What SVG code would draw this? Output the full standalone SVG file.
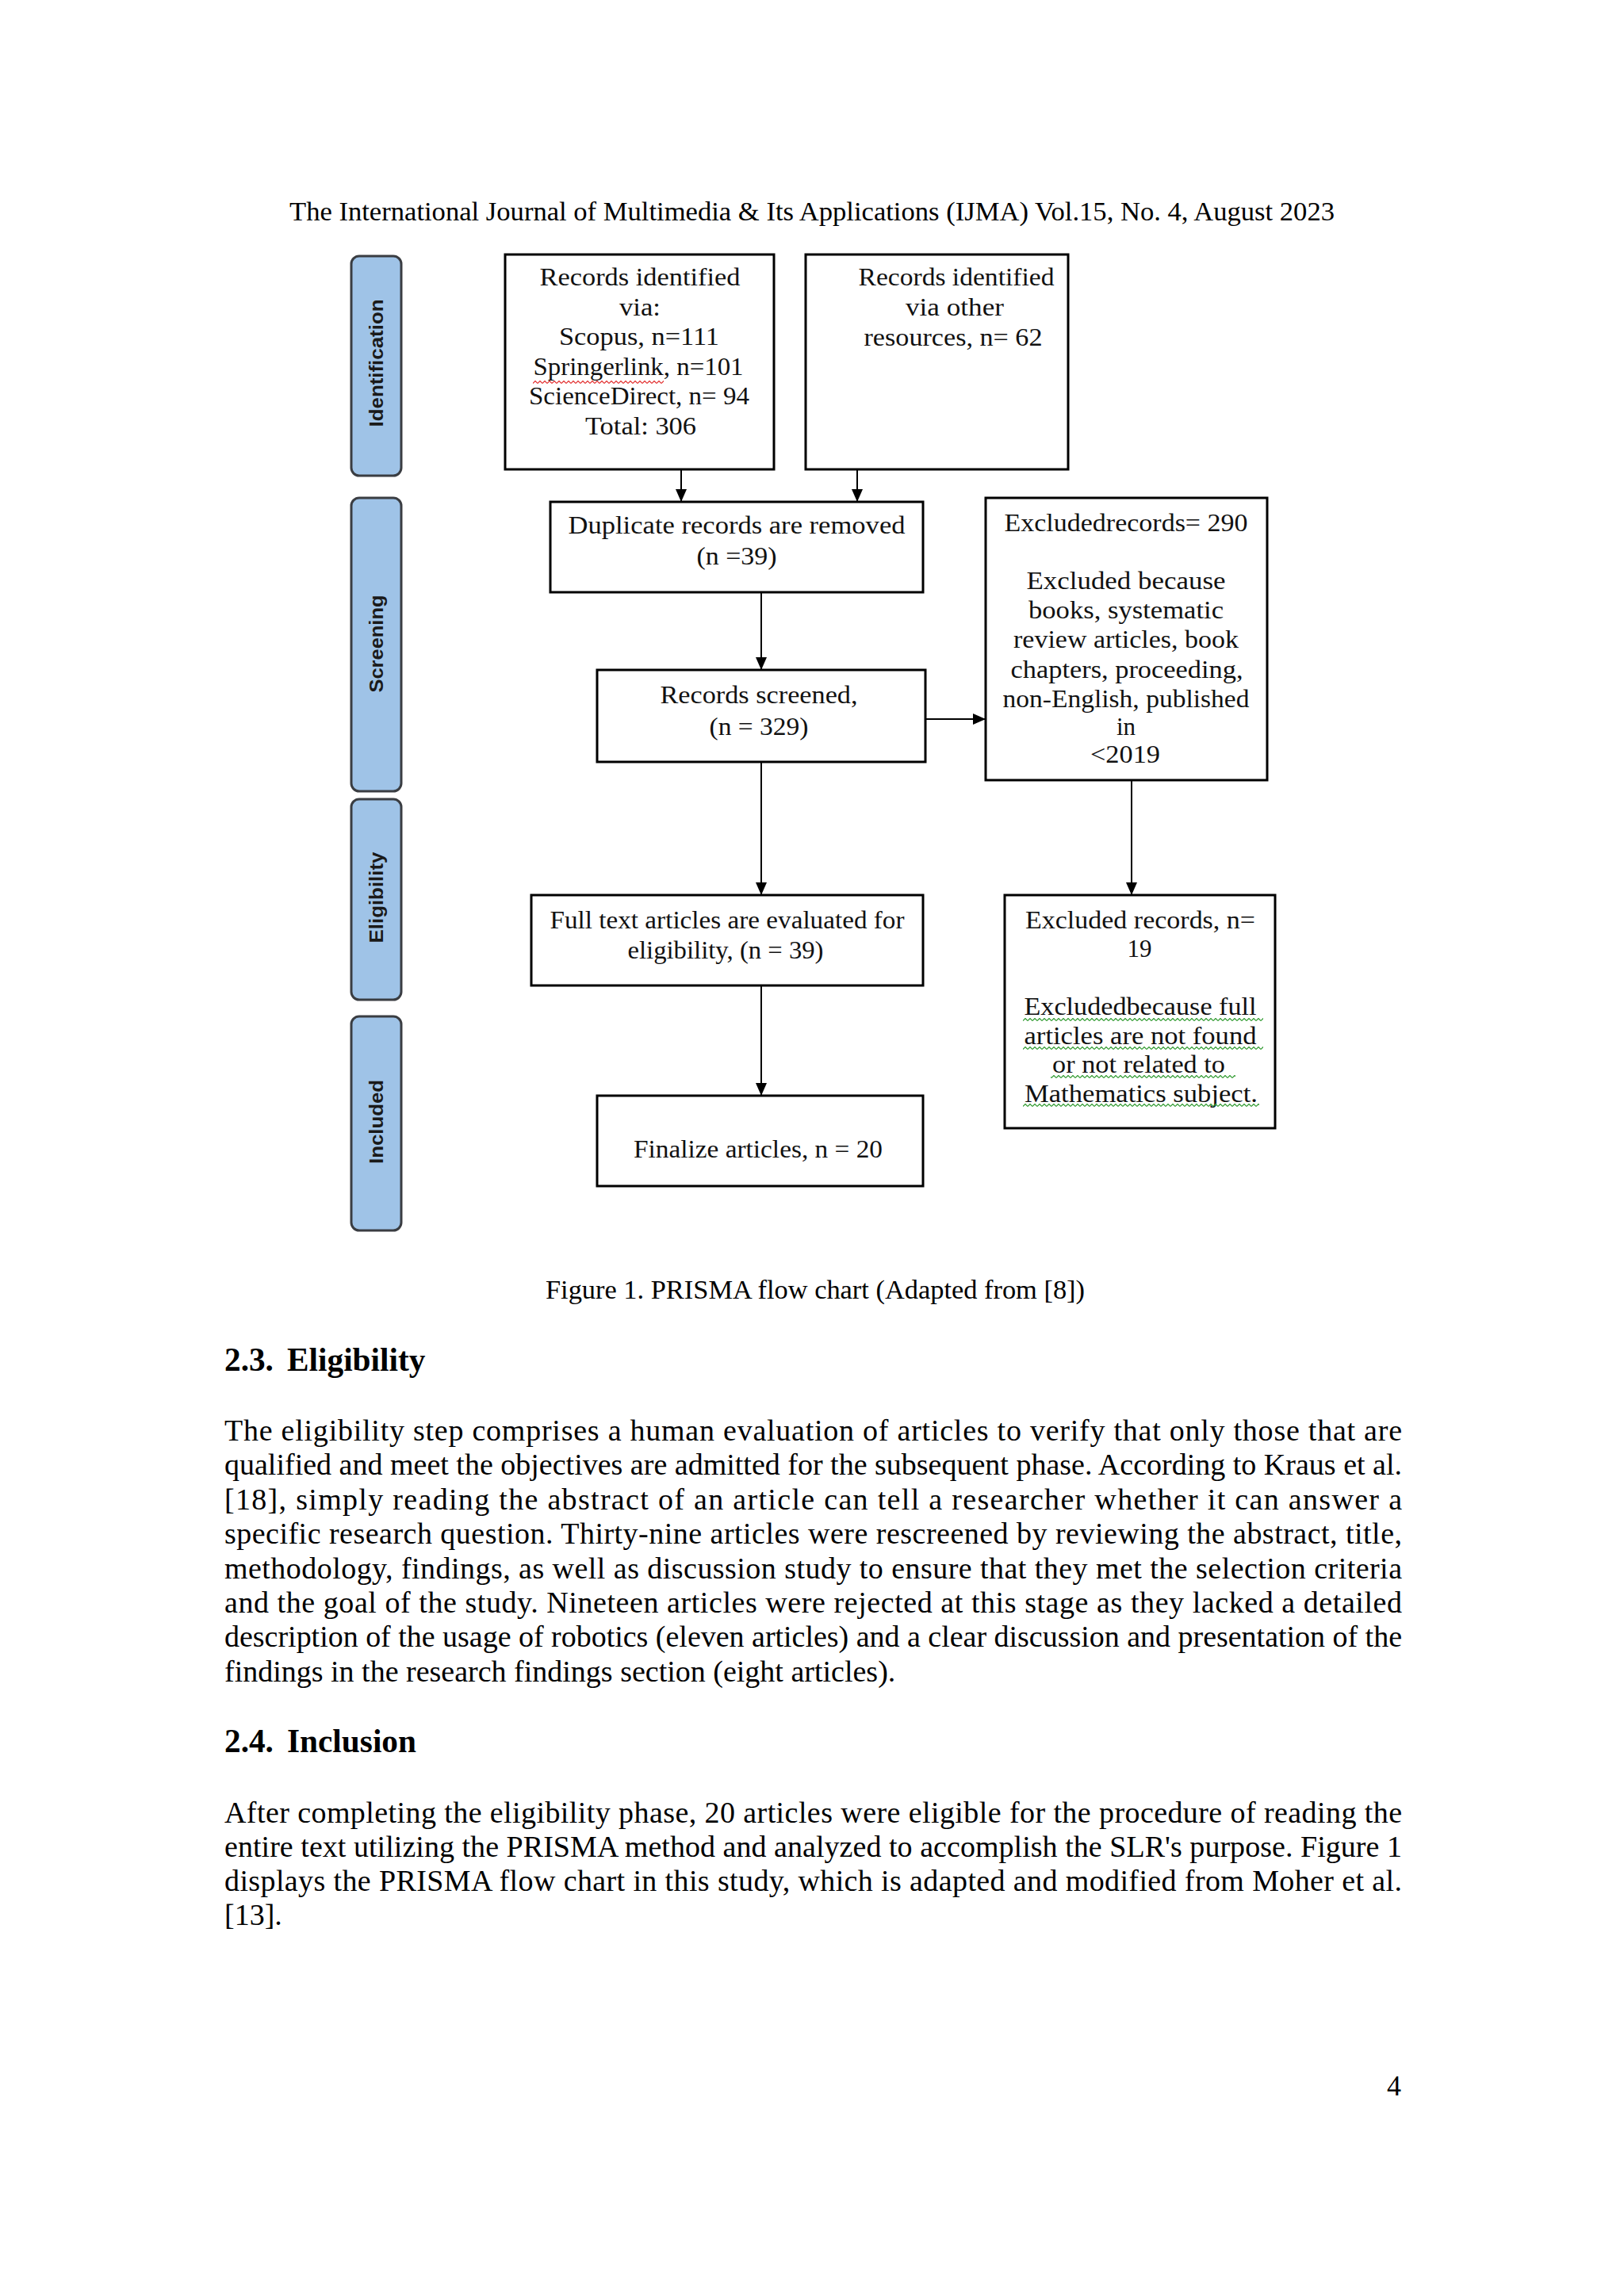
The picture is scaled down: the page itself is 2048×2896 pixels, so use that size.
<svg xmlns="http://www.w3.org/2000/svg" width="2048" height="2896" viewBox="0 0 2048 2896">
<defs>
<style>
.page{font-family:"Liberation Serif","Times New Roman",serif;fill:#000}
.box{fill:#fff;stroke:#000;stroke-width:3}
.bt{font-family:"Liberation Serif","Times New Roman",serif;font-size:31px;fill:#111;text-anchor:middle}
.bar{fill:#9fc3e7;stroke:#3a3d42;stroke-width:3}
.bl{font-family:"Liberation Sans",Arial,sans-serif;font-size:24px;font-weight:bold;fill:#1a1a1a;text-anchor:middle}
.con{stroke:#000;stroke-width:2;fill:none}
.body{font-size:38px}
.hd{font-size:41.3px;font-weight:bold}
</style>
<marker id="ah" markerUnits="userSpaceOnUse" markerWidth="16" markerHeight="14" viewBox="0 0 16 14" refX="16" refY="7" orient="auto">
<path d="M0,0 L16,7 L0,14 z" fill="#000"/>
</marker>
<pattern id="sqG" patternUnits="userSpaceOnUse" width="6" height="4">
<path d="M0,3.5 L3,0.5 L6,3.5" stroke="#2f9a2f" stroke-width="1.2" fill="none"/>
</pattern>
<pattern id="sqR" patternUnits="userSpaceOnUse" width="6" height="4">
<path d="M0,3.5 L3,0.5 L6,3.5" stroke="#e23030" stroke-width="1.2" fill="none"/>
</pattern>
</defs>
<rect width="2048" height="2896" fill="#fff"/>

<text class="page" x="365" y="278" font-size="34.4" textLength="1318" lengthAdjust="spacingAndGlyphs">The International Journal of Multimedia &amp; Its Applications (IJMA) Vol.15, No. 4, August 2023</text>

<g id="phase-identification">
<rect class="bar" x="443" y="323" width="63" height="277" rx="10"/>
<text class="bl" transform="translate(483,458) rotate(-90)" textLength="161" lengthAdjust="spacingAndGlyphs">Identification</text>
</g>
<g id="phase-screening">
<rect class="bar" x="443" y="628" width="63" height="370" rx="10"/>
<text class="bl" transform="translate(483,812) rotate(-90)" textLength="123" lengthAdjust="spacingAndGlyphs">Screening</text>
</g>
<g id="phase-eligibility">
<rect class="bar" x="443" y="1008" width="63" height="253" rx="10"/>
<text class="bl" transform="translate(483,1132) rotate(-90)" textLength="115" lengthAdjust="spacingAndGlyphs">Eligibility</text>
</g>
<g id="phase-included">
<rect class="bar" x="443" y="1282" width="63" height="270" rx="10"/>
<text class="bl" transform="translate(483,1415) rotate(-90)" textLength="106" lengthAdjust="spacingAndGlyphs">Included</text>
</g>

<g id="connectors">
<line class="con" x1="859" y1="592" x2="859" y2="633" marker-end="url(#ah)"/>
<line class="con" x1="1081" y1="592" x2="1081" y2="633" marker-end="url(#ah)"/>
<line class="con" x1="960" y1="747" x2="960" y2="845" marker-end="url(#ah)"/>
<line class="con" x1="1167" y1="907" x2="1243" y2="907" stroke-width="3" marker-end="url(#ah)"/>
<line class="con" x1="960" y1="961" x2="960" y2="1129" marker-end="url(#ah)"/>
<line class="con" x1="1427" y1="984" x2="1427" y2="1129" marker-end="url(#ah)"/>
<line class="con" x1="960" y1="1243" x2="960" y2="1382" marker-end="url(#ah)"/>
</g>

<g id="node-records-databases">
<rect class="box" x="637" y="321" width="339" height="271"/>
<text class="bt" x="807" y="360" textLength="253" lengthAdjust="spacingAndGlyphs">Records identified</text>
<text class="bt" x="807" y="398" textLength="52" lengthAdjust="spacingAndGlyphs">via:</text>
<text class="bt" x="806" y="435" textLength="202" lengthAdjust="spacingAndGlyphs">Scopus, n=111</text>
<text class="bt" x="805" y="473" textLength="265" lengthAdjust="spacingAndGlyphs">Springerlink, n=101</text>
<rect x="672" y="480" width="165" height="4" fill="url(#sqR)"/>
<text class="bt" x="806" y="510" textLength="278" lengthAdjust="spacingAndGlyphs">ScienceDirect, n= 94</text>
<text class="bt" x="808" y="548" textLength="140" lengthAdjust="spacingAndGlyphs">Total: 306</text>
</g>

<g id="node-records-other">
<rect class="box" x="1016" y="321" width="331" height="271"/>
<text class="bt" x="1206" y="360" textLength="247" lengthAdjust="spacingAndGlyphs">Records identified</text>
<text class="bt" x="1204" y="398" textLength="124" lengthAdjust="spacingAndGlyphs">via other</text>
<text class="bt" x="1202" y="436" textLength="225" lengthAdjust="spacingAndGlyphs">resources, n= 62</text>
</g>

<g id="node-duplicates">
<rect class="box" x="694" y="633" width="470" height="114"/>
<text class="bt" x="929" y="673" textLength="425" lengthAdjust="spacingAndGlyphs">Duplicate records are removed</text>
<text class="bt" x="929" y="712" textLength="101" lengthAdjust="spacingAndGlyphs">(n =39)</text>
</g>

<g id="node-screened">
<rect class="box" x="753" y="845" width="414" height="116"/>
<text class="bt" x="957" y="887" textLength="249" lengthAdjust="spacingAndGlyphs">Records screened,</text>
<text class="bt" x="957" y="927" textLength="125" lengthAdjust="spacingAndGlyphs">(n = 329)</text>
</g>

<g id="node-excluded-290">
<rect class="box" x="1243" y="628" width="355" height="356"/>
<text class="bt" x="1420" y="670" textLength="307" lengthAdjust="spacingAndGlyphs">Excludedrecords= 290</text>
<text class="bt" x="1420" y="743" textLength="251" lengthAdjust="spacingAndGlyphs">Excluded because</text>
<text class="bt" x="1420" y="780" textLength="246" lengthAdjust="spacingAndGlyphs">books, systematic</text>
<text class="bt" x="1420" y="817" textLength="284" lengthAdjust="spacingAndGlyphs">review articles, book</text>
<text class="bt" x="1421" y="855" textLength="293" lengthAdjust="spacingAndGlyphs">chapters, proceeding,</text>
<text class="bt" x="1420" y="892" textLength="311" lengthAdjust="spacingAndGlyphs">non-English, published</text>
<text class="bt" x="1420" y="927">in</text>
<text class="bt" x="1419" y="962" textLength="88" lengthAdjust="spacingAndGlyphs">&lt;2019</text>
</g>

<g id="node-fulltext">
<rect class="box" x="670" y="1129" width="494" height="114"/>
<text class="bt" x="917" y="1171" textLength="447" lengthAdjust="spacingAndGlyphs">Full text articles are evaluated for</text>
<text class="bt" x="915" y="1209" textLength="247" lengthAdjust="spacingAndGlyphs">eligibility, (n = 39)</text>
</g>

<g id="node-excluded-19">
<rect class="box" x="1267" y="1129" width="341" height="294"/>
<text class="bt" x="1438" y="1171" textLength="290" lengthAdjust="spacingAndGlyphs">Excluded records, n=</text>
<text class="bt" x="1437" y="1207">19</text>
<text class="bt" x="1438" y="1280" textLength="293" lengthAdjust="spacingAndGlyphs">Excludedbecause full</text>
<rect x="1290" y="1284" width="303" height="4" fill="url(#sqG)"/>
<text class="bt" x="1438" y="1317" textLength="293" lengthAdjust="spacingAndGlyphs">articles are not found</text>
<rect x="1290" y="1320" width="303" height="4" fill="url(#sqG)"/>
<text class="bt" x="1436" y="1353" textLength="218" lengthAdjust="spacingAndGlyphs">or not related to</text>
<rect x="1325" y="1356" width="233" height="4" fill="url(#sqG)"/>
<text class="bt" x="1439" y="1390" textLength="294" lengthAdjust="spacingAndGlyphs">Mathematics subject.</text>
<rect x="1290" y="1392" width="298" height="4" fill="url(#sqG)"/>
</g>

<g id="node-finalize">
<rect class="box" x="753" y="1382" width="411" height="114"/>
<text class="bt" x="956" y="1460" textLength="314" lengthAdjust="spacingAndGlyphs">Finalize articles, n = 20</text>
</g>

<text class="page" x="1028" y="1638" font-size="34.4" text-anchor="middle">Figure 1. PRISMA flow chart (Adapted from [8])</text>

<g class="page">
<text class="hd" x="283" y="1729">2.3.<tspan x="362">Eligibility</tspan></text>
<text class="body" x="283" y="1817" textLength="1485" lengthAdjust="spacing">The eligibility step comprises a human evaluation of articles to verify that only those that are</text>
<text class="body" x="283" y="1860" textLength="1485" lengthAdjust="spacing">qualified and meet the objectives are admitted for the subsequent phase. According to Kraus et al.</text>
<text class="body" x="283" y="1904" textLength="1485" lengthAdjust="spacing">[18], simply reading the abstract of an article can tell a researcher whether it can answer a</text>
<text class="body" x="283" y="1947" textLength="1485" lengthAdjust="spacing">specific research question. Thirty-nine articles were rescreened by reviewing the abstract, title,</text>
<text class="body" x="283" y="1991" textLength="1485" lengthAdjust="spacing">methodology, findings, as well as discussion study to ensure that they met the selection criteria</text>
<text class="body" x="283" y="2034" textLength="1485" lengthAdjust="spacing">and the goal of the study. Nineteen articles were rejected at this stage as they lacked a detailed</text>
<text class="body" x="283" y="2077" textLength="1485" lengthAdjust="spacing">description of the usage of robotics (eleven articles) and a clear discussion and presentation of the</text>
<text class="body" x="283" y="2121">findings in the research findings section (eight articles).</text>

<text class="hd" x="283" y="2210">2.4.<tspan x="362">Inclusion</tspan></text>
<text class="body" x="283" y="2299" textLength="1485" lengthAdjust="spacing">After completing the eligibility phase, 20 articles were eligible for the procedure of reading the</text>
<text class="body" x="283" y="2342" textLength="1485" lengthAdjust="spacing">entire text utilizing the PRISMA method and analyzed to accomplish the SLR's purpose. Figure 1</text>
<text class="body" x="283" y="2385" textLength="1485" lengthAdjust="spacing">displays the PRISMA flow chart in this study, which is adapted and modified from Moher et al.</text>
<text class="body" x="283" y="2428">[13].</text>

<text x="1767" y="2643" font-size="36" text-anchor="end">4</text>
</g>
</svg>
